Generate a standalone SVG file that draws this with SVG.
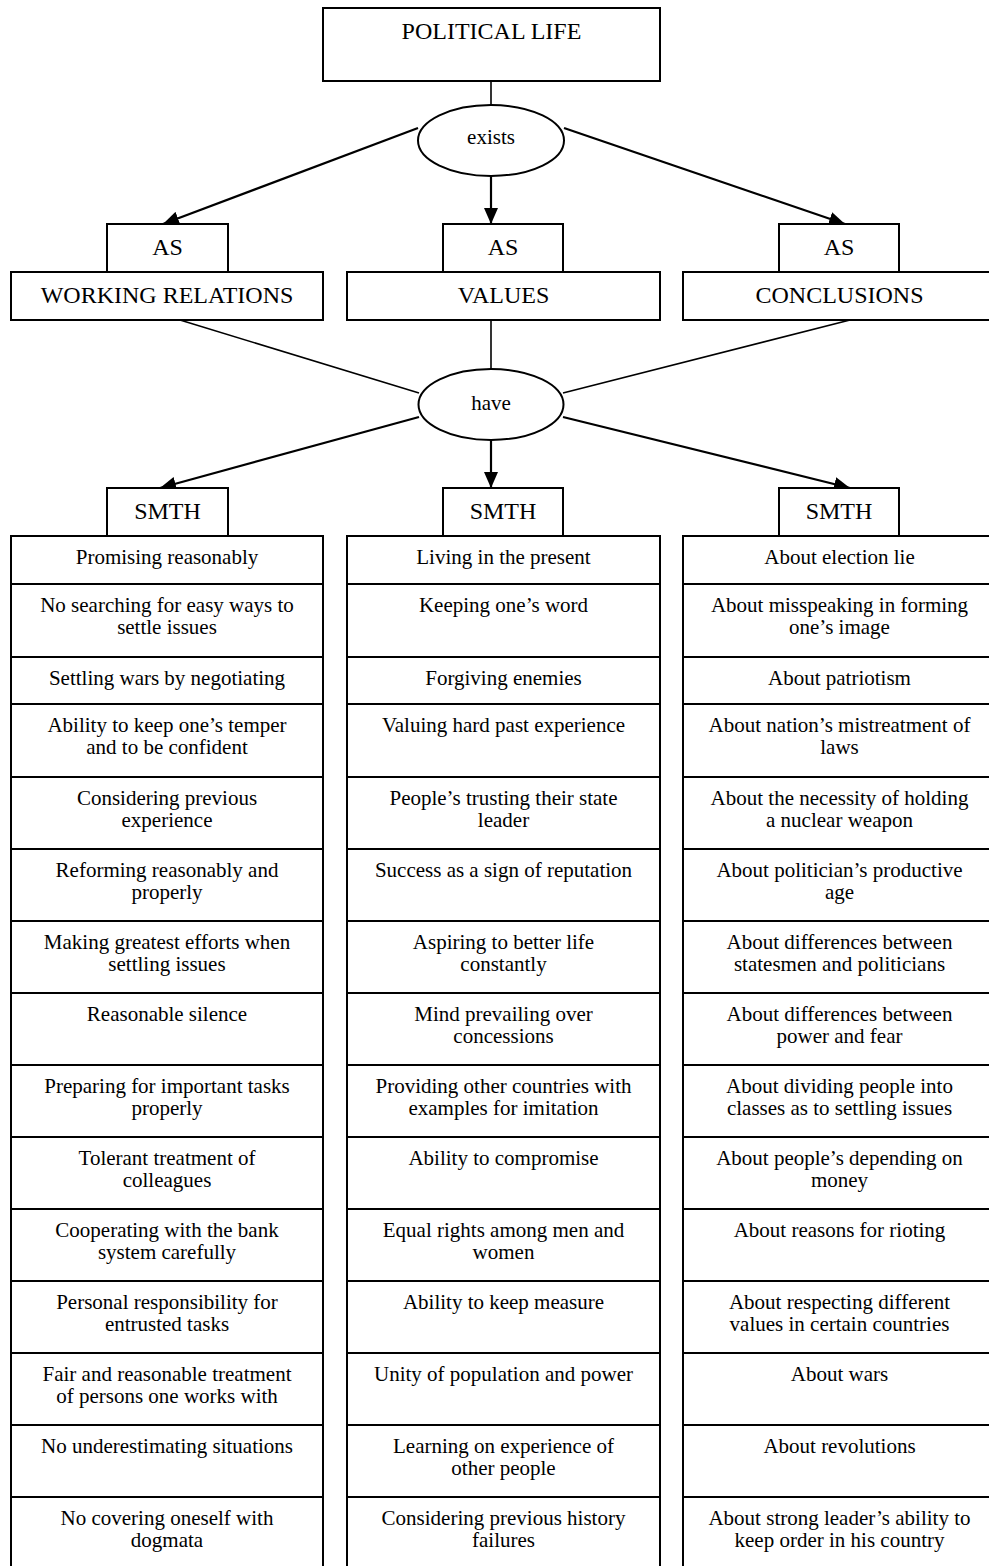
<svg xmlns="http://www.w3.org/2000/svg" width="989" height="1566" viewBox="0 0 989 1566">
<style>
.box{fill:#fff;stroke:#000;stroke-width:2}
.ell{fill:#fff;stroke:#000;stroke-width:2}
.t{font-size:21px;text-anchor:middle;fill:#000}
.cap{font-size:24px}
.edge{stroke:#000;stroke-width:2.2;fill:none}
.thin{stroke:#000;stroke-width:1.6;fill:none}
</style>
<defs>
<marker id="arr" markerUnits="userSpaceOnUse" markerWidth="16" markerHeight="14" refX="16" refY="7" orient="auto">
<path d="M0,0 L16,7 L0,14 z" fill="#000"/>
</marker>
</defs>
<rect width="989" height="1566" fill="#fff"/>
<g id="connectors">
<line class="thin" x1="491" y1="81" x2="491" y2="105"/>
<line class="edge" x1="418" y1="128" x2="163" y2="224" marker-end="url(#arr)"/>
<line class="edge" x1="491" y1="176" x2="491" y2="224" marker-end="url(#arr)"/>
<line class="edge" x1="564" y1="128" x2="845" y2="224" marker-end="url(#arr)"/>
<line class="thin" x1="180" y1="320" x2="419" y2="393"/>
<line class="thin" x1="491" y1="320" x2="491" y2="369"/>
<line class="thin" x1="850" y1="320" x2="563" y2="393"/>
<line class="edge" x1="419" y1="417" x2="160" y2="488" marker-end="url(#arr)"/>
<line class="edge" x1="491" y1="440" x2="491" y2="488" marker-end="url(#arr)"/>
<line class="edge" x1="563" y1="417" x2="850" y2="488" marker-end="url(#arr)"/>
</g>
<g font-family="Liberation Serif, serif">
<g id="political-life"><rect class="box" x="323" y="8" width="337" height="73"/><text class="t cap" x="491.5" y="39">POLITICAL LIFE</text></g>
<g id="exists"><ellipse class="ell" cx="491" cy="140.5" rx="73" ry="35.5"/><text class="t" x="491" y="144">exists</text></g>
<g id="as-1"><rect class="box" x="107" y="224" width="121" height="48"/><text class="t cap" x="167.5" y="255">AS</text></g>
<g id="as-2"><rect class="box" x="443" y="224" width="120" height="48"/><text class="t cap" x="503" y="255">AS</text></g>
<g id="as-3"><rect class="box" x="779" y="224" width="120" height="48"/><text class="t cap" x="839" y="255">AS</text></g>
<g id="working-relations"><rect class="box" x="11" y="272" width="312" height="48"/><text class="t cap" x="167" y="303">WORKING RELATIONS</text></g>
<g id="values"><rect class="box" x="347" y="272" width="313" height="48"/><text class="t cap" x="503.5" y="303">VALUES</text></g>
<g id="conclusions"><rect class="box" x="683" y="272" width="313" height="48"/><text class="t cap" x="839.5" y="303">CONCLUSIONS</text></g>
<g id="have"><ellipse class="ell" cx="491" cy="404.5" rx="72.5" ry="35.5"/><text class="t" x="491" y="410">have</text></g>
<g id="smth-1"><rect class="box" x="107" y="488" width="121" height="48"/><text class="t cap" x="167.5" y="519">SMTH</text></g>
<g id="smth-2"><rect class="box" x="443" y="488" width="120" height="48"/><text class="t cap" x="503" y="519">SMTH</text></g>
<g id="smth-3"><rect class="box" x="779" y="488" width="120" height="48"/><text class="t cap" x="839" y="519">SMTH</text></g>

<g id="col-working-relations">
<g id="wr-1"><rect class="box" x="11" y="536" width="312" height="48"/><text class="t" x="167" y="564">Promising reasonably</text></g>
<g id="wr-2"><rect class="box" x="11" y="584" width="312" height="73"/><text class="t" x="167" y="612">No searching for easy ways to<tspan x="167" dy="22">settle issues</tspan></text></g>
<g id="wr-3"><rect class="box" x="11" y="657" width="312" height="47"/><text class="t" x="167" y="685">Settling wars by negotiating</text></g>
<g id="wr-4"><rect class="box" x="11" y="704" width="312" height="73"/><text class="t" x="167" y="732">Ability to keep one’s temper<tspan x="167" dy="22">and to be confident</tspan></text></g>
<g id="wr-5"><rect class="box" x="11" y="777" width="312" height="72"/><text class="t" x="167" y="805">Considering previous<tspan x="167" dy="22">experience</tspan></text></g>
<g id="wr-6"><rect class="box" x="11" y="849" width="312" height="72"/><text class="t" x="167" y="877">Reforming reasonably and<tspan x="167" dy="22">properly</tspan></text></g>
<g id="wr-7"><rect class="box" x="11" y="921" width="312" height="72"/><text class="t" x="167" y="949">Making greatest efforts when<tspan x="167" dy="22">settling issues</tspan></text></g>
<g id="wr-8"><rect class="box" x="11" y="993" width="312" height="72"/><text class="t" x="167" y="1021">Reasonable silence</text></g>
<g id="wr-9"><rect class="box" x="11" y="1065" width="312" height="72"/><text class="t" x="167" y="1093">Preparing for important tasks<tspan x="167" dy="22">properly</tspan></text></g>
<g id="wr-10"><rect class="box" x="11" y="1137" width="312" height="72"/><text class="t" x="167" y="1165">Tolerant treatment of<tspan x="167" dy="22">colleagues</tspan></text></g>
<g id="wr-11"><rect class="box" x="11" y="1209" width="312" height="72"/><text class="t" x="167" y="1237">Cooperating with the bank<tspan x="167" dy="22">system carefully</tspan></text></g>
<g id="wr-12"><rect class="box" x="11" y="1281" width="312" height="72"/><text class="t" x="167" y="1309">Personal responsibility for<tspan x="167" dy="22">entrusted tasks</tspan></text></g>
<g id="wr-13"><rect class="box" x="11" y="1353" width="312" height="72"/><text class="t" x="167" y="1381">Fair and reasonable treatment<tspan x="167" dy="22">of persons one works with</tspan></text></g>
<g id="wr-14"><rect class="box" x="11" y="1425" width="312" height="72"/><text class="t" x="167" y="1453">No underestimating situations</text></g>
<g id="wr-15"><rect class="box" x="11" y="1497" width="312" height="80"/><text class="t" x="167" y="1525">No covering oneself with<tspan x="167" dy="22">dogmata</tspan></text></g>
</g>

<g id="col-values">
<g id="v-1"><rect class="box" x="347" y="536" width="313" height="48"/><text class="t" x="503.5" y="564">Living in the present</text></g>
<g id="v-2"><rect class="box" x="347" y="584" width="313" height="73"/><text class="t" x="503.5" y="612">Keeping one’s word</text></g>
<g id="v-3"><rect class="box" x="347" y="657" width="313" height="47"/><text class="t" x="503.5" y="685">Forgiving enemies</text></g>
<g id="v-4"><rect class="box" x="347" y="704" width="313" height="73"/><text class="t" x="503.5" y="732">Valuing hard past experience</text></g>
<g id="v-5"><rect class="box" x="347" y="777" width="313" height="72"/><text class="t" x="503.5" y="805">People’s trusting their state<tspan x="503.5" dy="22">leader</tspan></text></g>
<g id="v-6"><rect class="box" x="347" y="849" width="313" height="72"/><text class="t" x="503.5" y="877">Success as a sign of reputation</text></g>
<g id="v-7"><rect class="box" x="347" y="921" width="313" height="72"/><text class="t" x="503.5" y="949">Aspiring to better life<tspan x="503.5" dy="22">constantly</tspan></text></g>
<g id="v-8"><rect class="box" x="347" y="993" width="313" height="72"/><text class="t" x="503.5" y="1021">Mind prevailing over<tspan x="503.5" dy="22">concessions</tspan></text></g>
<g id="v-9"><rect class="box" x="347" y="1065" width="313" height="72"/><text class="t" x="503.5" y="1093">Providing other countries with<tspan x="503.5" dy="22">examples for imitation</tspan></text></g>
<g id="v-10"><rect class="box" x="347" y="1137" width="313" height="72"/><text class="t" x="503.5" y="1165">Ability to compromise</text></g>
<g id="v-11"><rect class="box" x="347" y="1209" width="313" height="72"/><text class="t" x="503.5" y="1237">Equal rights among men and<tspan x="503.5" dy="22">women</tspan></text></g>
<g id="v-12"><rect class="box" x="347" y="1281" width="313" height="72"/><text class="t" x="503.5" y="1309">Ability to keep measure</text></g>
<g id="v-13"><rect class="box" x="347" y="1353" width="313" height="72"/><text class="t" x="503.5" y="1381">Unity of population and power</text></g>
<g id="v-14"><rect class="box" x="347" y="1425" width="313" height="72"/><text class="t" x="503.5" y="1453">Learning on experience of<tspan x="503.5" dy="22">other people</tspan></text></g>
<g id="v-15"><rect class="box" x="347" y="1497" width="313" height="80"/><text class="t" x="503.5" y="1525">Considering previous history<tspan x="503.5" dy="22">failures</tspan></text></g>
</g>

<g id="col-conclusions">
<g id="c-1"><rect class="box" x="683" y="536" width="313" height="48"/><text class="t" x="839.5" y="564">About election lie</text></g>
<g id="c-2"><rect class="box" x="683" y="584" width="313" height="73"/><text class="t" x="839.5" y="612">About misspeaking in forming<tspan x="839.5" dy="22">one’s image</tspan></text></g>
<g id="c-3"><rect class="box" x="683" y="657" width="313" height="47"/><text class="t" x="839.5" y="685">About patriotism</text></g>
<g id="c-4"><rect class="box" x="683" y="704" width="313" height="73"/><text class="t" x="839.5" y="732">About nation’s mistreatment of<tspan x="839.5" dy="22">laws</tspan></text></g>
<g id="c-5"><rect class="box" x="683" y="777" width="313" height="72"/><text class="t" x="839.5" y="805">About the necessity of holding<tspan x="839.5" dy="22">a nuclear weapon</tspan></text></g>
<g id="c-6"><rect class="box" x="683" y="849" width="313" height="72"/><text class="t" x="839.5" y="877">About politician’s productive<tspan x="839.5" dy="22">age</tspan></text></g>
<g id="c-7"><rect class="box" x="683" y="921" width="313" height="72"/><text class="t" x="839.5" y="949">About differences between<tspan x="839.5" dy="22">statesmen and politicians</tspan></text></g>
<g id="c-8"><rect class="box" x="683" y="993" width="313" height="72"/><text class="t" x="839.5" y="1021">About differences between<tspan x="839.5" dy="22">power and fear</tspan></text></g>
<g id="c-9"><rect class="box" x="683" y="1065" width="313" height="72"/><text class="t" x="839.5" y="1093">About dividing people into<tspan x="839.5" dy="22">classes as to settling issues</tspan></text></g>
<g id="c-10"><rect class="box" x="683" y="1137" width="313" height="72"/><text class="t" x="839.5" y="1165">About people’s depending on<tspan x="839.5" dy="22">money</tspan></text></g>
<g id="c-11"><rect class="box" x="683" y="1209" width="313" height="72"/><text class="t" x="839.5" y="1237">About reasons for rioting</text></g>
<g id="c-12"><rect class="box" x="683" y="1281" width="313" height="72"/><text class="t" x="839.5" y="1309">About respecting different<tspan x="839.5" dy="22">values in certain countries</tspan></text></g>
<g id="c-13"><rect class="box" x="683" y="1353" width="313" height="72"/><text class="t" x="839.5" y="1381">About wars</text></g>
<g id="c-14"><rect class="box" x="683" y="1425" width="313" height="72"/><text class="t" x="839.5" y="1453">About revolutions</text></g>
<g id="c-15"><rect class="box" x="683" y="1497" width="313" height="80"/><text class="t" x="839.5" y="1525">About strong leader’s ability to<tspan x="839.5" dy="22">keep order in his country</tspan></text></g>
</g>
</g>
</svg>
